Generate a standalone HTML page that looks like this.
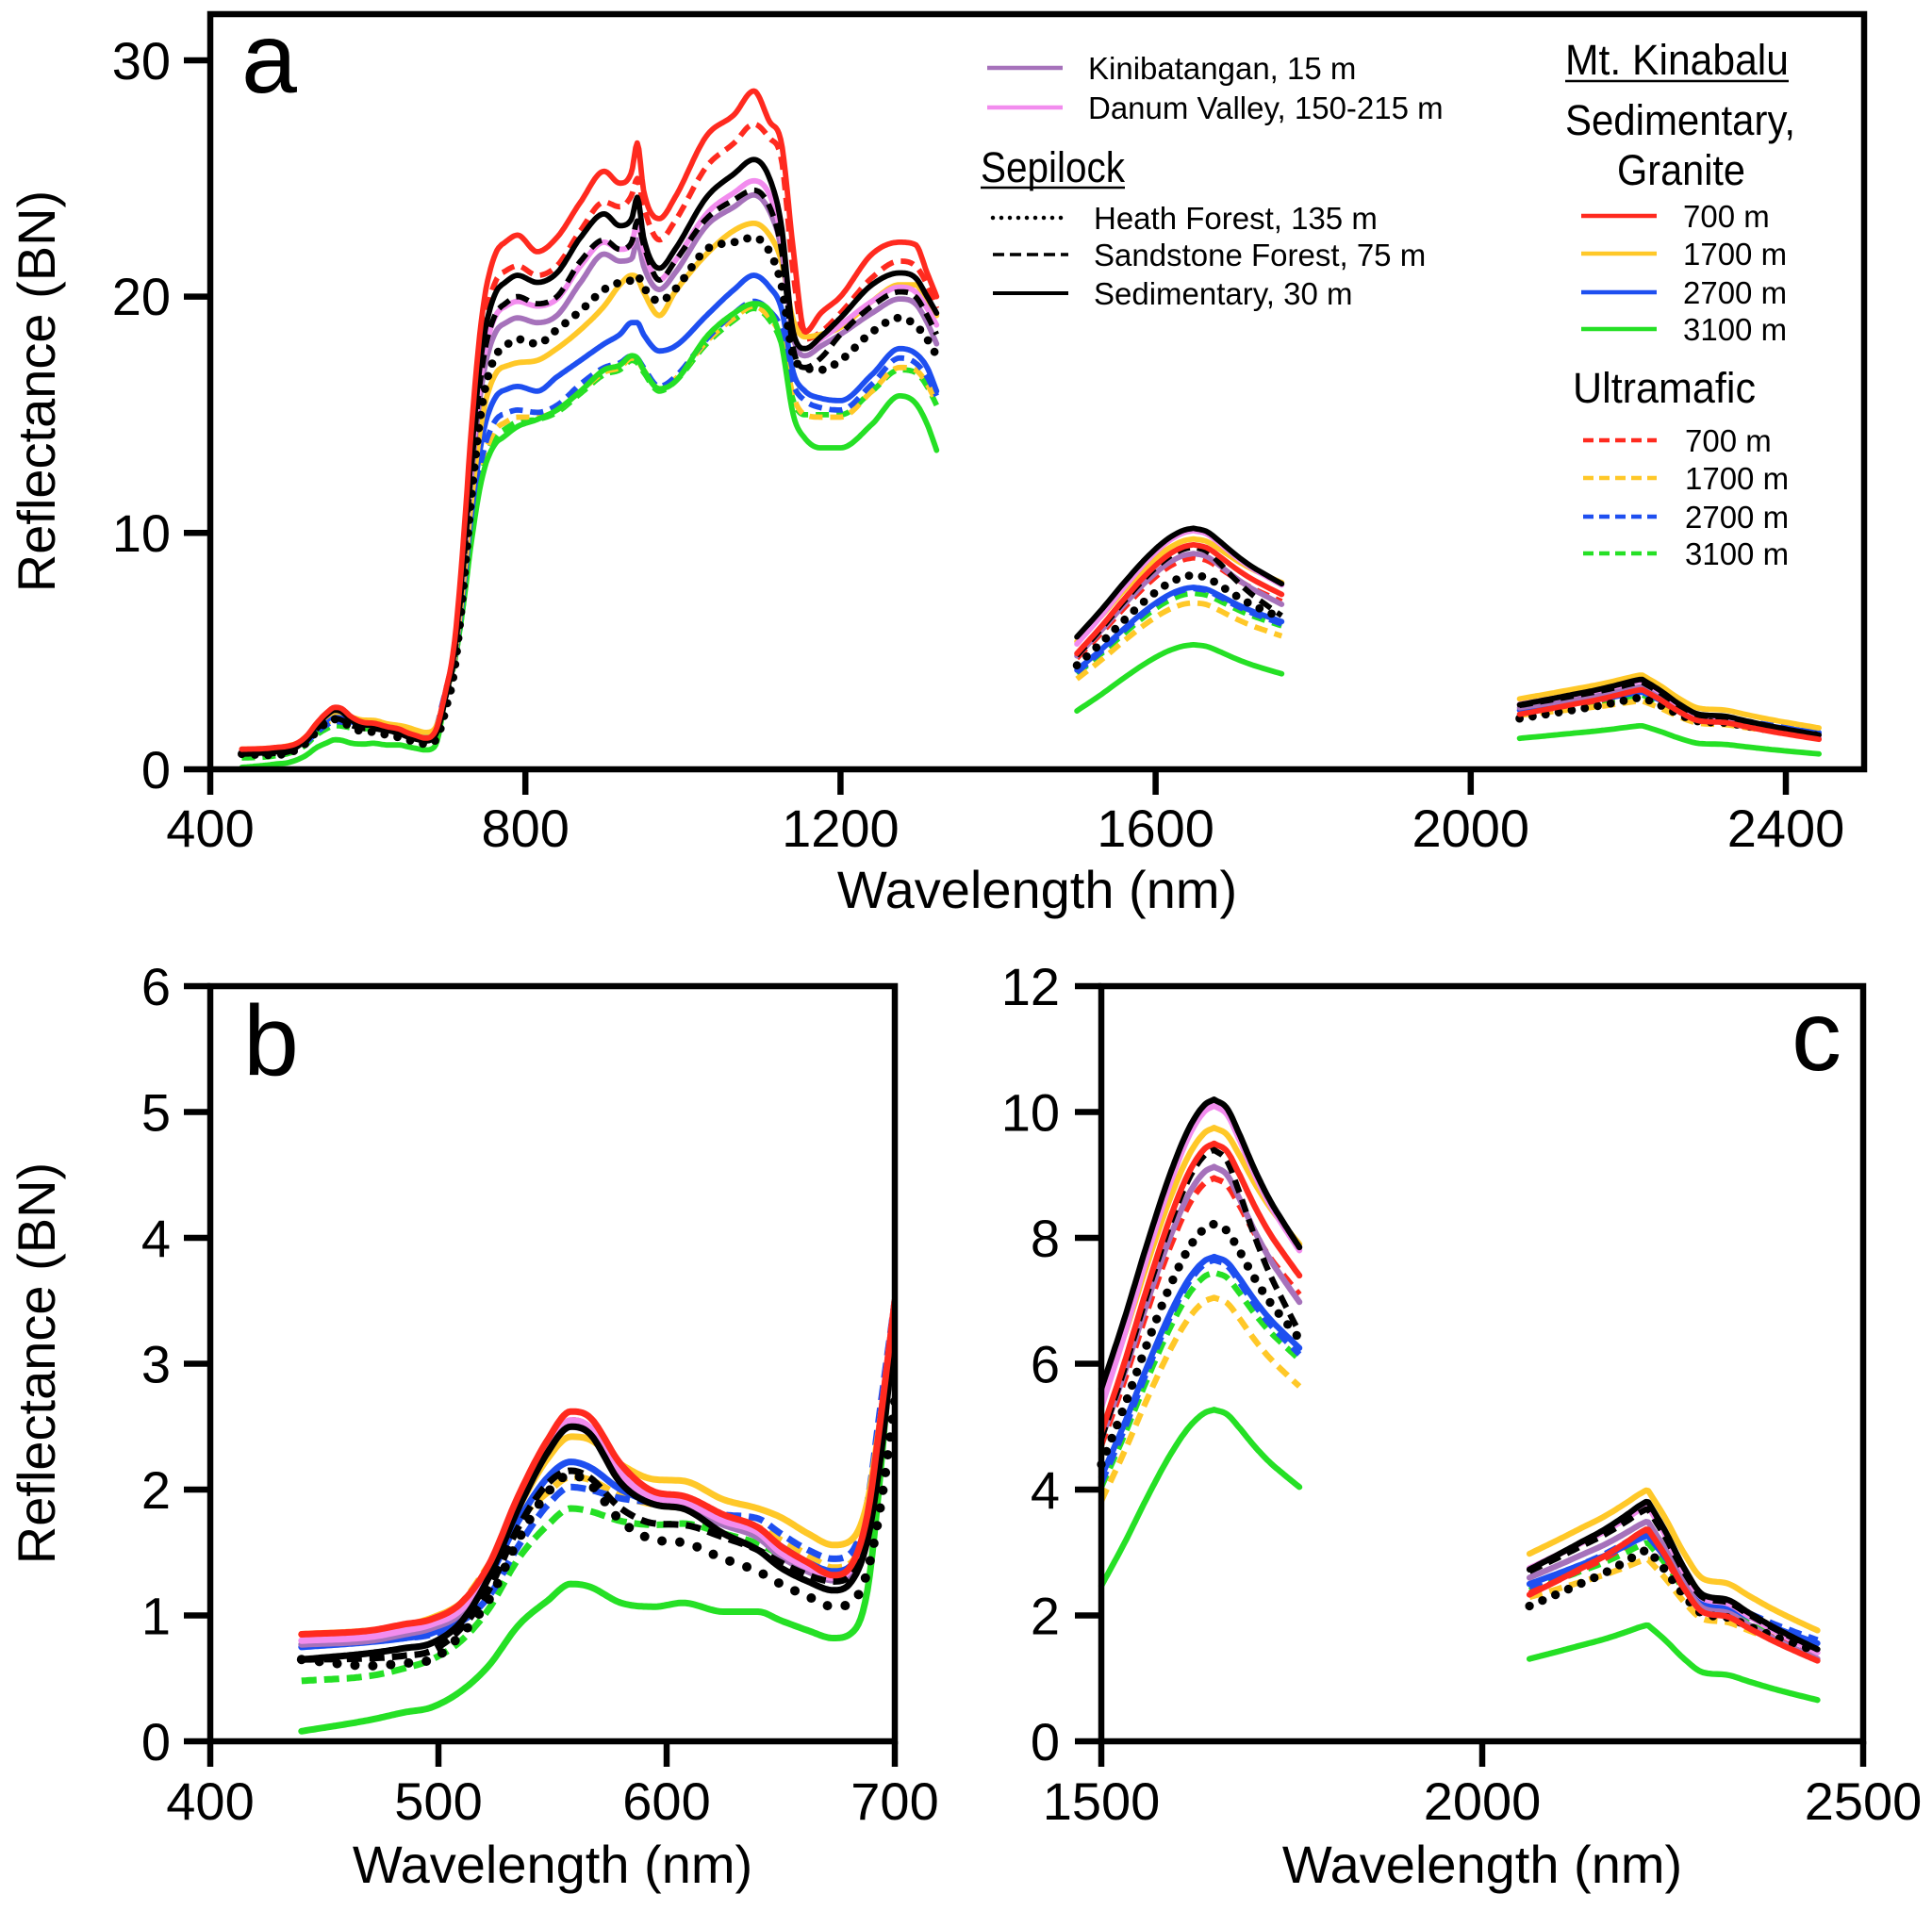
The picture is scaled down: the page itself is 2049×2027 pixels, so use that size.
<!DOCTYPE html>
<html><head><meta charset="utf-8">
<style>
html,body{margin:0;padding:0;background:#fff;}
svg{display:block;}
text{font-family:"Liberation Sans",Arial,sans-serif;fill:#000;}
</style></head><body>
<svg id="svg" xmlns="http://www.w3.org/2000/svg" width="2049" height="2027" viewBox="0 0 2049 2027">
<defs>
<clipPath id="cb"><rect x="223" y="1046" width="726" height="801"/></clipPath>
</defs>
<rect width="2049" height="2027" fill="#fff"/>
<g id="ca"></g>
<g id="cbg" clip-path="url(#cb)"></g>
<g id="cc"></g>

<!-- Panel a frame -->
<g stroke="#000" stroke-width="6.5" fill="none">
<rect x="223" y="15" width="1754" height="801"/>
<line x1="223" y1="816" x2="223" y2="843"/><line x1="557.2" y1="816" x2="557.2" y2="843"/><line x1="891.4" y1="816" x2="891.4" y2="843"/><line x1="1225.6" y1="816" x2="1225.6" y2="843"/><line x1="1559.8" y1="816" x2="1559.8" y2="843"/><line x1="1894" y1="816" x2="1894" y2="843"/>
<line x1="195" y1="816" x2="223" y2="816"/><line x1="195" y1="565.3" x2="223" y2="565.3"/><line x1="195" y1="314.6" x2="223" y2="314.6"/><line x1="195" y1="64" x2="223" y2="64"/>
</g>
<g font-size="56" text-anchor="middle">
<text x="223" y="898">400</text><text x="557.2" y="898">800</text><text x="891.4" y="898">1200</text><text x="1225.6" y="898">1600</text><text x="1559.8" y="898">2000</text><text x="1894" y="898">2400</text>
</g>
<g font-size="56" text-anchor="end">
<text x="181" y="836">0</text><text x="181" y="585">10</text><text x="181" y="334">20</text><text x="181" y="84">30</text>
</g>
<text x="1100" y="963" font-size="56" text-anchor="middle">Wavelength (nm)</text>
<text transform="translate(58,415) rotate(-90)" font-size="56" text-anchor="middle">Reflectance (BN)</text>
<text x="256" y="98" font-size="106">a</text>

<!-- Panel b frame -->
<g stroke="#000" stroke-width="6.5" fill="none">
<rect x="223" y="1046" width="726" height="801"/>
<line x1="223" y1="1847" x2="223" y2="1874"/><line x1="465" y1="1847" x2="465" y2="1874"/><line x1="707" y1="1847" x2="707" y2="1874"/><line x1="949" y1="1847" x2="949" y2="1874"/>
<line x1="195" y1="1847" x2="223" y2="1847"/><line x1="195" y1="1713.5" x2="223" y2="1713.5"/><line x1="195" y1="1580" x2="223" y2="1580"/><line x1="195" y1="1446.5" x2="223" y2="1446.5"/><line x1="195" y1="1313" x2="223" y2="1313"/><line x1="195" y1="1179.5" x2="223" y2="1179.5"/><line x1="195" y1="1046" x2="223" y2="1046"/>
</g>
<g font-size="56" text-anchor="middle">
<text x="223" y="1930">400</text><text x="465" y="1930">500</text><text x="707" y="1930">600</text><text x="949" y="1930">700</text>
</g>
<g font-size="56" text-anchor="end">
<text x="181" y="1867">0</text><text x="181" y="1733.5">1</text><text x="181" y="1600">2</text><text x="181" y="1466.5">3</text><text x="181" y="1333">4</text><text x="181" y="1199.5">5</text><text x="181" y="1066">6</text>
</g>
<text x="586" y="1997" font-size="56" text-anchor="middle">Wavelength (nm)</text>
<text transform="translate(58,1446) rotate(-90)" font-size="56" text-anchor="middle">Reflectance (BN)</text>
<text x="258" y="1140" font-size="106">b</text>

<!-- Panel c frame -->
<g stroke="#000" stroke-width="6.5" fill="none">
<rect x="1168" y="1046" width="808" height="801"/>
<line x1="1168" y1="1847" x2="1168" y2="1874"/><line x1="1572" y1="1847" x2="1572" y2="1874"/><line x1="1976" y1="1847" x2="1976" y2="1874"/>
<line x1="1140" y1="1847" x2="1168" y2="1847"/><line x1="1140" y1="1713.5" x2="1168" y2="1713.5"/><line x1="1140" y1="1580" x2="1168" y2="1580"/><line x1="1140" y1="1446.5" x2="1168" y2="1446.5"/><line x1="1140" y1="1313" x2="1168" y2="1313"/><line x1="1140" y1="1179.5" x2="1168" y2="1179.5"/><line x1="1140" y1="1046" x2="1168" y2="1046"/>
</g>
<g font-size="56" text-anchor="middle">
<text x="1168" y="1930">1500</text><text x="1572" y="1930">2000</text><text x="1976" y="1930">2500</text>
</g>
<g font-size="56" text-anchor="end">
<text x="1124" y="1867">0</text><text x="1124" y="1733.5">2</text><text x="1124" y="1600">4</text><text x="1124" y="1466.5">6</text><text x="1124" y="1333">8</text><text x="1124" y="1199.5">10</text><text x="1124" y="1066">12</text>
</g>
<text x="1572" y="1997" font-size="56" text-anchor="middle">Wavelength (nm)</text>
<text x="1953" y="1135" font-size="106" text-anchor="end">c</text>

<!-- Left legend -->
<g stroke-width="4.5" fill="none">
<line x1="1047" y1="72" x2="1127" y2="72" stroke="#a672bb"/>
<line x1="1047" y1="114" x2="1127" y2="114" stroke="#f28cee"/>
<line x1="1053" y1="231" x2="1133" y2="231" stroke="#000" stroke-width="4.5" stroke-dasharray="0 9" stroke-linecap="round"/>
<line x1="1053" y1="270" x2="1133" y2="270" stroke="#000" stroke-width="3.5" stroke-dasharray="12 6"/>
<line x1="1053" y1="311" x2="1133" y2="311" stroke="#000" stroke-width="4"/>
</g>
<g font-size="33">
<text x="1154" y="84">Kinibatangan, 15 m</text>
<text x="1154" y="126">Danum Valley, 150-215 m</text>
<text x="1160" y="243">Heath Forest, 135 m</text>
<text x="1160" y="282">Sandstone Forest, 75 m</text>
<text x="1160" y="323">Sedimentary, 30 m</text>
</g>
<text x="1040" y="193" font-size="45" textLength="153" lengthAdjust="spacingAndGlyphs">Sepilock</text>
<line x1="1040" y1="199" x2="1193" y2="199" stroke="#000" stroke-width="2.5"/>

<!-- Right legend -->
<text x="1660" y="79" font-size="45" textLength="237" lengthAdjust="spacingAndGlyphs">Mt. Kinabalu</text>
<line x1="1660" y1="86" x2="1897" y2="86" stroke="#000" stroke-width="2.5"/>
<text x="1660" y="143" font-size="45" textLength="244" lengthAdjust="spacingAndGlyphs">Sedimentary,</text>
<text x="1715" y="196" font-size="45" textLength="136" lengthAdjust="spacingAndGlyphs">Granite</text>
<text x="1668" y="427" font-size="45" textLength="194" lengthAdjust="spacingAndGlyphs">Ultramafic</text>
<g stroke-width="4.5" fill="none">
<line x1="1677" y1="229" x2="1757" y2="229" stroke="#ff2a1f"/>
<line x1="1677" y1="269" x2="1757" y2="269" stroke="#ffc828"/>
<line x1="1677" y1="310" x2="1757" y2="310" stroke="#1e4ff0"/>
<line x1="1677" y1="349" x2="1757" y2="349" stroke="#25e025"/>
<line x1="1679" y1="467" x2="1757" y2="467" stroke="#ff2a1f" stroke-dasharray="11 6"/>
<line x1="1679" y1="507" x2="1757" y2="507" stroke="#ffc828" stroke-dasharray="11 6"/>
<line x1="1679" y1="548" x2="1757" y2="548" stroke="#1e4ff0" stroke-dasharray="11 6"/>
<line x1="1679" y1="587" x2="1757" y2="587" stroke="#25e025" stroke-dasharray="11 6"/>
</g>
<g font-size="33">
<text x="1785" y="241">700 m</text>
<text x="1785" y="281">1700 m</text>
<text x="1785" y="322">2700 m</text>
<text x="1785" y="361">3100 m</text>
<text x="1787" y="479">700 m</text>
<text x="1787" y="519">1700 m</text>
<text x="1787" y="560">2700 m</text>
<text x="1787" y="599">3100 m</text>
</g>
</svg>
<script>
(function(){
var NS='http://www.w3.org/2000/svg';
var R='#ff2a1f',Y='#ffc828',B='#1e4ff0',G='#25e025',P='#f28cee',U='#a672bb',K='#000';
function interp(xs,ys){
  var n=xs.length,d=[],m=[],i;
  for(i=0;i<n-1;i++) d.push((ys[i+1]-ys[i])/(xs[i+1]-xs[i]));
  for(i=0;i<n;i++){
    if(i==0) m.push(d[0]); else if(i==n-1) m.push(d[n-2]);
    else { if(d[i-1]*d[i]<=0) m.push(0); else m.push((d[i-1]+d[i])/2); }
  }
  for(i=0;i<n-1;i++){
    if(d[i]==0){m[i]=0;m[i+1]=0;continue;}
    var a=m[i]/d[i],b=m[i+1]/d[i],s=a*a+b*b;
    if(s>9){var t=3/Math.sqrt(s);m[i]=t*a*d[i];m[i+1]=t*b*d[i];}
  }
  return function(x){
    var i=0; while(i<n-2 && x>xs[i+1]) i++;
    var h=xs[i+1]-xs[i],t=(x-xs[i])/h,t2=t*t,t3=t2*t;
    return (2*t3-3*t2+1)*ys[i]+(t3-2*t2+t)*h*m[i]+(-2*t3+3*t2)*ys[i+1]+(t3-t2)*h*m[i+1];
  };
}
var LB=[440,470,485,497,510,522,535,548,558,566,580,595,607,625,640,650,662,673,681,688,694,700];
var LA=[770,790,815,840,870,900,920,935,942,950,970,990,1030,1065,1090,1110,1125,1140,1155,1175,1200,1240,1275,1295,1310,1322];
var fr=interp([700,705,710,715,720,725,730,735,740,745,750,755,760,765,770],[0,0.04,0.1,0.19,0.3,0.42,0.55,0.66,0.76,0.84,0.9,0.94,0.97,0.99,1]);
var g1=interp([1500,1530,1560,1590,1615,1635,1648],[0,0.24,0.5,0.74,0.9,0.98,1]);
var h1=interp([1648,1665,1680,1700,1720,1740,1760],[0,0.06,0.22,0.46,0.67,0.84,1]);
var r2=interp([2062,2100,2130,2160,2190,2205,2217],[0,0.22,0.4,0.58,0.8,0.92,1]);
var q2=interp([2217,2240,2265,2290,2320,2350,2380,2410,2442],[0,0.2,0.45,0.63,0.66,0.75,0.84,0.92,1]);
var S=[
 {c:G,t:'d',b:[0.48,0.52,0.58,0.65,0.8,1.05,1.45,1.72,1.85,1.83,1.75,1.72,1.73,1.65,1.57,1.48,1.38,1.32,1.38,1.8,2.6,3.4],
  a:[14.3,14.7,14.8,15.1,15.9,16.7,16.9,17.3,17.2,16.8,16.0,16.4,18.0,19.0,19.5,19.0,18.0,15.6,15.0,15.0,15.0,16.0,16.9,16.8,16.2,15.4],s1:[4.04,7.45,6.07],s2:[2.4,3.16,1.5]},
 {c:Y,t:'d',b:[0.82,0.85,0.9,0.96,1.1,1.4,1.75,1.98,2.1,2.08,1.95,1.88,1.85,1.75,1.7,1.6,1.48,1.38,1.42,1.8,2.6,3.4],
  a:[14.6,14.9,14.9,15.2,16.0,16.8,17.0,17.4,17.3,16.9,16.1,16.5,18.1,19.1,19.6,19.1,18.2,15.8,15.0,14.9,14.9,16.0,17.0,16.9,16.3,15.5],s1:[3.82,7.05,5.64],s2:[2.29,2.9,1.38]},
 {c:B,t:'d',b:[0.78,0.8,0.82,0.85,0.95,1.15,1.55,1.88,2.02,2.0,1.93,1.9,1.88,1.8,1.77,1.65,1.52,1.45,1.5,1.9,2.7,3.5],
  a:[15.0,15.2,15.1,15.4,16.3,17.0,17.2,17.5,17.4,17.0,16.2,16.6,18.2,19.3,19.8,19.4,18.6,16.3,15.6,15.3,15.2,16.3,17.4,17.2,16.6,15.8],s1:[4.1,7.65,6.15],s2:[2.45,3.35,1.6]},
 {c:R,t:'d',b:[0.82,0.85,0.9,0.95,1.08,1.38,1.9,2.35,2.55,2.5,2.15,1.95,1.9,1.75,1.65,1.5,1.38,1.3,1.38,1.8,2.6,3.5],
  a:[21.0,21.3,20.9,21.3,22.8,24.0,23.8,24.3,25.0,23.8,22.4,23.2,25.5,26.5,27.3,26.7,25.8,21.0,18.2,18.5,19.3,20.8,21.5,21.3,20.5,19.5],s1:[4.7,8.95,7.1],s2:[2.35,3.3,1.35]},
 {c:G,t:'s',b:[0.08,0.17,0.23,0.27,0.4,0.6,0.92,1.12,1.25,1.23,1.1,1.07,1.1,1.03,1.03,0.96,0.88,0.82,0.86,1.2,2.2,3.5],
  a:[14.0,14.5,14.8,15.2,16.0,16.9,17.1,17.5,17.4,16.9,16.1,16.4,18.3,19.3,19.7,19.4,18.0,15.0,14.0,13.6,13.6,14.6,15.8,15.5,14.6,13.5],s1:[2.47,5.27,4.04],s2:[1.31,1.85,0.65]},
 {c:B,t:'s',b:[0.75,0.79,0.82,0.86,1.0,1.3,1.75,2.1,2.22,2.18,2.0,1.9,1.88,1.75,1.67,1.55,1.42,1.35,1.4,1.8,2.6,3.4],
  a:[16.0,16.2,16.0,16.6,17.3,18.0,18.4,18.9,18.9,18.4,17.7,17.9,19.2,20.3,20.9,20.4,19.5,16.8,16.0,15.7,15.6,16.7,17.8,17.6,17.0,16.0],s1:[4.2,7.7,6.25],s2:[2.5,3.27,1.55]},
 {c:Y,t:'s',b:[0.85,0.88,0.92,0.98,1.1,1.35,1.85,2.25,2.42,2.4,2.2,2.08,2.07,1.92,1.85,1.78,1.65,1.56,1.6,1.9,2.6,3.4],
  a:[17.0,17.2,17.3,17.8,18.6,19.6,20.5,20.9,20.8,20.2,19.2,20.2,21.8,22.8,23.1,22.6,21.5,19.0,18.3,18.4,18.7,19.8,20.5,20.5,19.8,19.2],s1:[5.4,9.75,7.9],s2:[2.98,4.0,1.75]},
 {c:U,t:'s',b:[0.77,0.8,0.85,0.9,1.02,1.32,1.85,2.3,2.5,2.45,2.1,1.9,1.86,1.72,1.62,1.47,1.35,1.28,1.35,1.75,2.5,3.4],
  a:[18.8,19.1,18.9,19.2,20.6,21.8,21.5,21.6,22.4,21.3,20.3,21.0,23.0,23.8,24.3,23.6,22.0,18.3,17.5,17.9,18.4,19.3,19.9,19.7,18.9,18.0],s1:[4.8,9.13,6.98],s2:[2.6,3.5,1.3]},
 {c:P,t:'s',b:[0.8,0.83,0.88,0.93,1.05,1.35,1.88,2.33,2.55,2.5,2.12,1.93,1.9,1.75,1.66,1.5,1.38,1.3,1.38,1.8,2.6,3.5],
  a:[19.5,19.8,19.6,19.9,21.3,22.3,22.0,22.2,23.2,22.0,20.7,21.5,23.5,24.4,24.9,24.3,22.5,18.5,17.8,18.2,18.8,19.8,20.4,20.2,19.5,18.8],s1:[5.3,10.1,7.8],s2:[2.75,3.75,1.4]},
 {c:K,t:'o',b:[0.65,0.6,0.62,0.65,0.85,1.12,1.6,1.98,2.12,2.05,1.75,1.6,1.58,1.45,1.35,1.25,1.15,1.07,1.1,1.35,1.9,2.7],
  a:[17.8,18.2,18.0,18.6,19.4,20.3,20.6,20.7,20.9,20.4,19.8,20.3,22.0,22.3,22.5,21.9,20.5,17.5,17.0,16.9,17.3,18.5,19.1,18.8,18.2,17.5],s1:[4.4,8.22,6.4],s2:[2.15,3.05,1.42]},
 {c:K,t:'d',b:[0.65,0.66,0.68,0.72,0.9,1.2,1.7,2.05,2.15,2.1,1.85,1.73,1.72,1.62,1.52,1.42,1.32,1.27,1.33,1.7,2.4,3.2],
  a:[19.6,20.0,19.7,20.0,21.5,22.4,22.0,22.3,23.2,22.2,20.7,21.5,23.3,24.1,24.5,23.8,22.0,17.8,17.0,17.4,18.4,19.6,20.2,20.0,19.2,18.4],s1:[4.8,9.4,6.5],s2:[2.7,3.7,1.45]},
 {c:K,t:'s',b:[0.65,0.7,0.74,0.78,0.95,1.3,1.85,2.3,2.5,2.45,2.05,1.88,1.85,1.65,1.52,1.38,1.27,1.2,1.27,1.6,2.3,3.3],
  a:[20.5,20.9,20.6,21.0,22.5,23.5,23.0,23.3,24.2,22.5,21.2,22.0,24.2,25.2,25.8,25.0,23.0,18.5,17.8,18.3,19.1,20.5,21.0,20.8,20.0,19.3],s1:[5.6,10.2,7.85],s2:[2.73,3.82,1.45]},
 {c:R,t:'s',b:[0.85,0.88,0.93,0.97,1.1,1.4,1.95,2.4,2.62,2.58,2.2,1.98,1.95,1.8,1.7,1.55,1.42,1.32,1.4,1.8,2.6,3.5],
  a:[22.2,22.6,21.9,22.5,24.0,25.3,24.8,25.3,26.5,24.5,23.3,24.2,26.8,27.7,28.7,27.4,26.5,22.0,18.5,19.3,20.0,21.8,22.3,22.2,21.0,20.0],s1:[4.9,9.5,7.4],s2:[2.33,3.38,1.27]}
];
function mk(par,d,s,panel){
  var p=document.createElementNS(NS,'path');
  p.setAttribute('d',d);p.setAttribute('fill','none');p.setAttribute('stroke',s.c);
  p.setAttribute('stroke-linejoin','round');
  var w={a:5.8,b:7,c:6.3}[panel];
  if(s.t=='d'){p.setAttribute('stroke-dasharray',panel=='b'?'16 8':'14 8');p.setAttribute('stroke-width',w);}
  else if(s.t=='o'){p.setAttribute('stroke-dasharray',panel=='b'?'0 19':(panel=='a'?'0 14':'0 15'));p.setAttribute('stroke-linecap','round');p.setAttribute('stroke-width',w+3);}
  else {p.setAttribute('stroke-width',w);p.setAttribute('stroke-linecap','round');}
  par.appendChild(p);
}
function path(f,l0,l1,st,X,Yf){
  var d='',l,first=true;
  for(l=l0;l<=l1+1e-6;l+=st){var x=X(l),y=Yf(f(l));d+=(first?'M':'L')+x.toFixed(1)+' '+y.toFixed(1);first=false;}
  return d;
}
var gA=document.getElementById('ca'),gB=document.getElementById('cbg'),gC=document.getElementById('cc');
var XA=function(l){return 223+(l-400)*0.8355;},YA=function(v){return 816-v*25.07;};
var XB=function(l){return 223+(l-400)*2.42;},YB=function(v){return 1847-v*133.5;};
var XC=function(l){return 1168+(l-1500)*0.808;},YC=function(v){return 1847-v*66.75;};
S.forEach(function(s){
  var fb=interp(LB,s.b),fa=interp(LA,s.a),v700=s.b[s.b.length-1],P0=s.a[0];
  var fv=function(l){return l<=700?fb(l):(l<770?v700+(P0-v700)*fr(l):fa(l));};
  var f1=function(l){return l<=1648?s.s1[0]+(s.s1[1]-s.s1[0])*g1(l):s.s1[1]-(s.s1[1]-s.s1[2])*h1(l);};
  var f2=function(l){return l<=2217?s.s2[0]+(s.s2[1]-s.s2[0])*r2(l):s.s2[1]-(s.s2[1]-s.s2[2])*q2(l);};
  var da=path(fv,440,1322,2,XA,YA)+path(f1,1500,1760,4,XA,YA)+path(f2,2062,2442,4,XA,YA);
  mk(gA,da,s,'a');
  mk(gB,path(fb,440,700,1,XB,YB),s,'b');
  mk(gC,path(f1,1500,1760,2,XC,YC)+path(f2,2062,2442,3,XC,YC),s,'c');
});
})();
</script>
</body></html>
